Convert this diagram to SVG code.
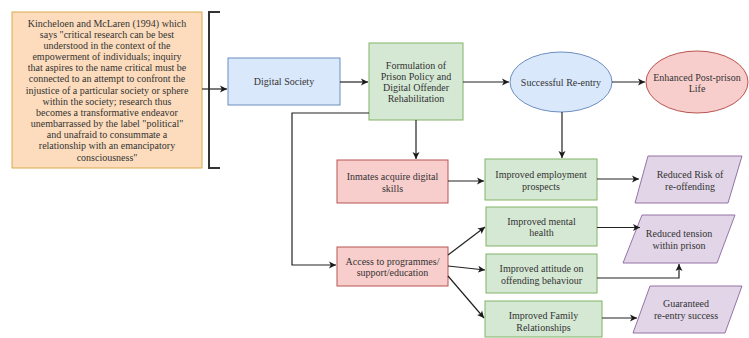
<svg xmlns="http://www.w3.org/2000/svg" width="749" height="338" viewBox="0 0 749 338" font-family="'Liberation Serif', 'DejaVu Serif', serif">
<defs>
<marker id="ah" markerWidth="8" markerHeight="8" refX="7" refY="4" orient="auto" markerUnits="userSpaceOnUse">
<path d="M0,0.5 L7,4 L0,7.5 L1.8,4 Z" fill="#1a1a1a"/>
</marker>
<style>
text{font-family:'Liberation Serif','DejaVu Serif',serif;font-size:10px;fill:#333;text-anchor:middle}
.q{font-size:10px}
.blue{fill:#dae8fc;stroke:#6c8ebf;stroke-width:1}
.green{fill:#d5e8d4;stroke:#82b366;stroke-width:1}
.red{fill:#f8cecc;stroke:#b85450;stroke-width:1}
.purple{fill:#e1d5e7;stroke:#9673a6;stroke-width:1}
.orange{fill:#fcdcbc;stroke:#d9a94d;stroke-width:1}
.c{fill:none;stroke:#222;stroke-width:1.2}
</style>
</defs>
<rect width="749" height="338" fill="#ffffff"/>

<g id="quote">
<rect class="orange" x="12" y="12" width="190" height="156"/>
<text class="q" x="107" y="26.5">Kincheloen and McLaren (1994) which</text>
<text class="q" x="107" y="37.7">says "critical research can be best</text>
<text class="q" x="107" y="48.8">understood in the context of the</text>
<text class="q" x="107" y="60">empowerment of individuals; inquiry</text>
<text class="q" x="107" y="71.2">that aspires to the name critical must be</text>
<text class="q" x="107" y="82.3">connected to an attempt to confront the</text>
<text class="q" x="107" y="93.5">injustice of a particular society or sphere</text>
<text class="q" x="107" y="104.7">within the society; research thus</text>
<text class="q" x="107" y="115.8">becomes a transformative endeavor</text>
<text class="q" x="107" y="127">unembarrassed by the label "political"</text>
<text class="q" x="107" y="138.2">and unafraid to consummate a</text>
<text class="q" x="107" y="149.3">relationship with an emancipatory</text>
<text class="q" x="107" y="160.5">consciousness"</text>
</g>

<g id="bracket">
<path d="M220,12 L209,12 L209,168 L220,168" fill="none" stroke="#333" stroke-width="2"/>
</g>

<g id="digital-society">
<rect class="blue" x="228" y="58" width="112" height="47"/>
<text x="284" y="85">Digital Society</text>
</g>

<g id="formulation">
<rect class="green" x="369" y="43" width="94" height="77"/>
<text x="416" y="68.5">Formulation of</text>
<text x="416" y="79.5">Prison Policy and</text>
<text x="416" y="90.5">Digital Offender</text>
<text x="416" y="101.5">Rehabilitation</text>
</g>

<g id="successful-reentry">
<ellipse class="blue" cx="561" cy="82" rx="51" ry="30"/>
<text x="561" y="85.5">Successful Re-entry</text>
</g>

<g id="enhanced-life">
<ellipse class="red" cx="697" cy="82" rx="51" ry="31"/>
<text x="697" y="80.5">Enhanced Post-prison</text>
<text x="697" y="91.5">Life</text>
</g>

<g id="inmates-skills">
<rect class="red" x="337" y="160" width="111" height="43"/>
<text x="392.5" y="179.5">Inmates acquire digital</text>
<text x="392.5" y="191.5">skills</text>
</g>

<g id="employment">
<rect class="green" x="485" y="159" width="112" height="41"/>
<text x="541" y="177.5">Improved employment</text>
<text x="541" y="189.5">prospects</text>
</g>

<g id="reduced-risk">
<polygon class="purple" points="648,156 742,156 728,203 635,203"/>
<text x="690" y="177.5">Reduced Risk of</text>
<text x="690" y="189.5">re-offending</text>
</g>

<g id="access">
<rect class="red" x="337" y="247" width="111" height="39"/>
<text x="392.5" y="264.5">Access to programmes/</text>
<text x="392.5" y="275.5">support/education</text>
</g>

<g id="mental-health">
<rect class="green" x="486" y="207" width="111" height="39"/>
<text x="541.5" y="224.5">Improved mental</text>
<text x="541.5" y="235.5">health</text>
</g>

<g id="attitude">
<rect class="green" x="486" y="254" width="111" height="39"/>
<text x="541.5" y="271.5">Improved attitude on</text>
<text x="541.5" y="283.5">offending behaviour</text>
</g>

<g id="family">
<rect class="green" x="485" y="301" width="117" height="36"/>
<text x="543.5" y="318.5">Improved Family</text>
<text x="543.5" y="330.5">Relationships</text>
</g>

<g id="reduced-tension">
<polygon class="purple" points="642,215 735,215 717,263 623,263"/>
<text x="679" y="236.5">Reduced tension</text>
<text x="679" y="248.5">within prison</text>
</g>

<g id="guaranteed">
<polygon class="purple" points="650,286 742,286 725,333 633,333"/>
<text x="686" y="306.5">Guaranteed</text>
<text x="686" y="318.5">re-entry success</text>
</g>

<g id="connectors">
<path class="c" d="M202,89 L227,89" marker-end="url(#ah)"/>
<path class="c" d="M340,82 L368,82" marker-end="url(#ah)"/>
<path class="c" d="M463,82 L509,82" marker-end="url(#ah)"/>
<path class="c" d="M612,82 L645,82" marker-end="url(#ah)"/>
<path class="c" d="M416,120 L416,159" marker-end="url(#ah)"/>
<path class="c" d="M562,112 L562,158" marker-end="url(#ah)"/>
<path class="c" d="M369,113 L292,113 L292,265 L336,265" marker-end="url(#ah)"/>
<path class="c" d="M448,181 L484,181" marker-end="url(#ah)"/>
<path class="c" d="M597,179 L639,179" marker-end="url(#ah)"/>
<path class="c" d="M448,255 L485,227" marker-end="url(#ah)"/>
<path class="c" d="M448,266 L485,270" marker-end="url(#ah)"/>
<path class="c" d="M448,276 L484,318" marker-end="url(#ah)"/>
<path class="c" d="M597,227.5 L640,227.5" marker-end="url(#ah)"/>
<path class="c" d="M597,278 L679,278 L679,264" marker-end="url(#ah)"/>
<path class="c" d="M602,318 L637,318" marker-end="url(#ah)"/>
</g>
</svg>
